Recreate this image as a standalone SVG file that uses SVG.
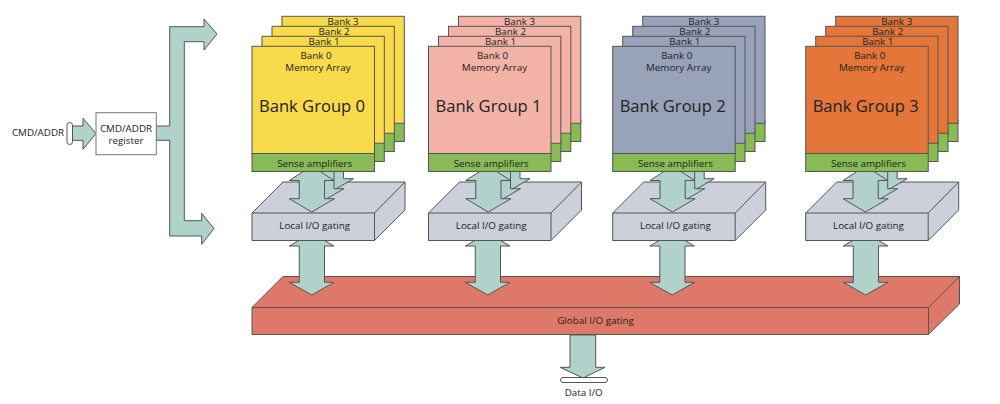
<svg xmlns="http://www.w3.org/2000/svg" xmlns:xlink="http://www.w3.org/1999/xlink" width="1000" height="404" viewBox="0 0 1000 404">
<style>
text{font-family:"Open Sans","Noto Sans","Liberation Sans",sans-serif;fill:#222;text-anchor:middle;font-size:9.8px}
.s{stroke:#555;stroke-width:1}
.a{fill:#b0d2cb;stroke:#555;stroke-width:1}
.g{fill:#88bb55}
.l{fill:#cbd0da}
.bg{font-size:16.600px}
.y{fill:#f8da4b}.p{fill:#f2b3a6}.b{fill:#98a2b8}.o{fill:#e37638}
.r{fill:#de7868}
.e{fill:none}
</style>
<defs>
<path id="up" class="a" d="M311.700 166L334 180.500L324.500 180.500L324.500 198.700L334.500 198.700L311.700 212L289.300 198.700L299.300 198.700L299.300 180.500L289.300 180.500Z"/>
<path id="lo" class="a" d="M311.700 233L334 246L324.500 246L324.500 282.300L334 282.300L311.700 295L289.300 282.300L299.300 282.300L299.300 246L289.300 246Z"/>
<g id="box">
<path class="s l" d="M252 213L283 182L405 182L405 210L374.500 240.500L252 240.500Z"/>
<path class="s e" d="M252 213L374.500 213L405 182M374.500 213L374.500 240.500"/>
</g>
</defs>
<g id="global-io">
<path class="s r" d="M252 307.500L283 276.500L959.500 276.500L959.500 304L928.500 334.500L252 334.500Z"/>
<path class="s e" d="M252 307.500L928.500 307.500L959.500 276.500M928.500 307.500L928.500 334.500"/>
<text x="595.500" y="324">Global I/O gating</text>
</g>
<g id="connectors-lower">
<use href="#lo"/><use href="#lo" x="176"/><use href="#lo" x="360.500"/><use href="#lo" x="554"/>
<path class="a" d="M570 335L595.700 335L595.700 367.300L605 367.300L583 378L560 367.300L570 367.300Z"/>
<rect x="560.500" y="377.500" width="47" height="5" rx="2.500" fill="#fff" stroke="#555"/>
<path class="a" d="M72.500 126L83 126L83 118.300L96 133.500L83 149.300L83 140.300L72.500 140.300Z"/>
<rect x="67" y="122.500" width="5.500" height="22" rx="2.700" fill="#fff" stroke="#555"/>
<path class="a" d="M156 126L169.700 126L169.700 26.700L204 26.700L204 19L217 34L204 50L204 41.700L184.300 41.700L184.300 220.700L201.700 220.700L201.700 213.300L214 228.500L201.700 244.300L201.700 236L169.700 236L169.700 140.300L156 140.300Z"/>
</g>
<g id="cmd-addr-label"><text x="38" y="136">CMD/ADDR</text></g>
<g id="cmd-addr-register">
<rect x="96" y="112.700" width="60.300" height="42" fill="#fff" stroke="#777"/>
<text x="126" y="131.700">CMD/ADDR</text><text x="126" y="143.500">register</text>
</g>
<g id="data-io-label"><text x="583.700" y="396">Data I/O</text></g>
<g id="local-0"><use href="#box"/><text x="314.700" y="228.700">Local I/O gating</text></g>
<g id="local-1" transform="translate(176.500 0)"><use href="#box"/><text x="314.700" y="228.700">Local I/O gating</text></g>
<g id="local-2" transform="translate(360.700 0)"><use href="#box"/><text x="314.700" y="228.700">Local I/O gating</text></g>
<g id="local-3" transform="translate(553.700 0)"><use href="#box"/><text x="314.700" y="228.700">Local I/O gating</text></g>
<g id="connectors-upper">
<use href="#up" x="19" y="-20"/><use href="#up" x="9.500" y="-10"/><use href="#up"/>
<g transform="translate(176.500 0)"><use href="#up" x="19" y="-20"/><use href="#up" x="9.500" y="-10"/><use href="#up"/></g>
<g transform="translate(360.700 0)"><use href="#up" x="19" y="-20"/><use href="#up" x="9.500" y="-10"/><use href="#up"/></g>
<g transform="translate(553.700 0)"><use href="#up" x="19" y="-20"/><use href="#up" x="9.500" y="-10"/><use href="#up"/></g>
</g>
<g id="group-0">
<rect class="s g" x="282" y="120" width="122.300" height="21.500"/><rect class="s y" x="282" y="16.300" width="122.300" height="107"/><text x="343" y="25">Bank 3</text>
<rect class="s g" x="272" y="130" width="122.300" height="21.500"/><rect class="s y" x="272" y="26.300" width="122.300" height="107"/><text x="334" y="35">Bank 2</text>
<rect class="s g" x="262" y="140" width="122.300" height="21.500"/><rect class="s y" x="262" y="36.300" width="122.300" height="107"/><text x="324" y="45">Bank 1</text>
<rect class="s y" x="252" y="46.300" width="122.500" height="107.200"/><rect class="s g" x="252" y="153.500" width="122.500" height="18"/>
<text x="316" y="59">Bank 0</text><text x="318" y="71">Memory Array</text><text class="bg" x="312" y="112">Bank Group 0</text><text x="314.700" y="167">Sense amplifiers</text>
</g>
<g id="group-1" transform="translate(176.500 0)">
<rect class="s g" x="282" y="120" width="122.300" height="21.500"/><rect class="s p" x="282" y="16.300" width="122.300" height="107"/><text x="343" y="25">Bank 3</text>
<rect class="s g" x="272" y="130" width="122.300" height="21.500"/><rect class="s p" x="272" y="26.300" width="122.300" height="107"/><text x="334" y="35">Bank 2</text>
<rect class="s g" x="262" y="140" width="122.300" height="21.500"/><rect class="s p" x="262" y="36.300" width="122.300" height="107"/><text x="324" y="45">Bank 1</text>
<rect class="s p" x="252" y="46.300" width="122.500" height="107.200"/><rect class="s g" x="252" y="153.500" width="122.500" height="18"/>
<text x="316" y="59">Bank 0</text><text x="318" y="71">Memory Array</text><text class="bg" x="312" y="112">Bank Group 1</text><text x="314.700" y="167">Sense amplifiers</text>
</g>
<g id="group-2" transform="translate(360.700 0)">
<rect class="s g" x="282" y="120" width="122.300" height="21.500"/><rect class="s b" x="282" y="16.300" width="122.300" height="107"/><text x="343" y="25">Bank 3</text>
<rect class="s g" x="272" y="130" width="122.300" height="21.500"/><rect class="s b" x="272" y="26.300" width="122.300" height="107"/><text x="334" y="35">Bank 2</text>
<rect class="s g" x="262" y="140" width="122.300" height="21.500"/><rect class="s b" x="262" y="36.300" width="122.300" height="107"/><text x="324" y="45">Bank 1</text>
<rect class="s b" x="252" y="46.300" width="122.500" height="107.200"/><rect class="s g" x="252" y="153.500" width="122.500" height="18"/>
<text x="316" y="59">Bank 0</text><text x="318" y="71">Memory Array</text><text class="bg" x="312" y="112">Bank Group 2</text><text x="314.700" y="167">Sense amplifiers</text>
</g>
<g id="group-3" transform="translate(553.700 0)">
<rect class="s g" x="282" y="120" width="122.300" height="21.500"/><rect class="s o" x="282" y="16.300" width="122.300" height="107"/><text x="343" y="25">Bank 3</text>
<rect class="s g" x="272" y="130" width="122.300" height="21.500"/><rect class="s o" x="272" y="26.300" width="122.300" height="107"/><text x="334" y="35">Bank 2</text>
<rect class="s g" x="262" y="140" width="122.300" height="21.500"/><rect class="s o" x="262" y="36.300" width="122.300" height="107"/><text x="324" y="45">Bank 1</text>
<rect class="s o" x="252" y="46.300" width="122.500" height="107.200"/><rect class="s g" x="252" y="153.500" width="122.500" height="18"/>
<text x="316" y="59">Bank 0</text><text x="318" y="71">Memory Array</text><text class="bg" x="312" y="112">Bank Group 3</text><text x="314.700" y="167">Sense amplifiers</text>
</g>
</svg>
